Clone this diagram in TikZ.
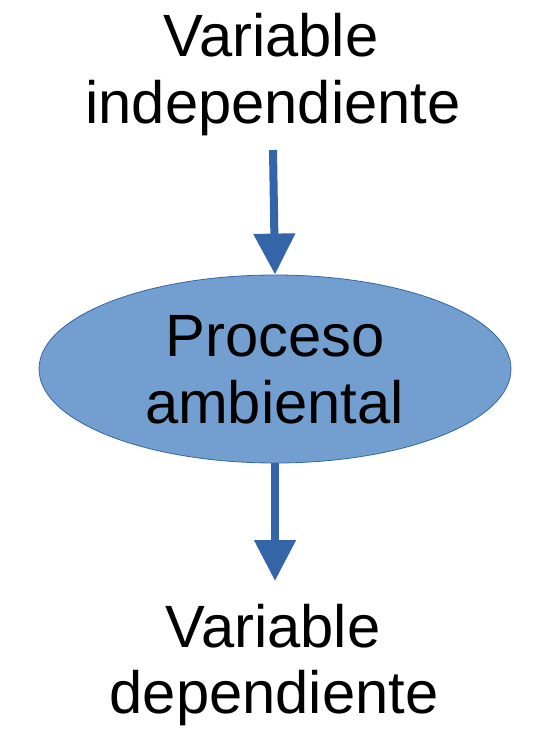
\documentclass[tikz,border=0pt]{standalone}
\usepackage{fontspec}
\setmainfont{Liberation Sans}
\usetikzlibrary{arrows.meta,shapes.geometric}
\definecolor{arrowblue}{HTML}{3465A8}
\definecolor{ellfill}{HTML}{729FCF}
\definecolor{ellline}{HTML}{3465A4}
\begin{document}
\begin{tikzpicture}[x=1pt,y=-1pt,
  lbl/.style={anchor=base,inner sep=0pt,font=\fontsize{59.7}{67}\selectfont},
  conn/.style={draw=arrowblue,line width=8pt,-{Triangle[width=40pt,length=41pt]}}]
\useasboundingbox (0,0) rectangle (555,744);
\node[lbl] (t1) at (271,56) {Variable};
\node[lbl] (t2) at (273,123) {independiente};
\node[draw=ellline,line width=0.8pt,fill=ellfill,ellipse,minimum width=472pt,minimum height=188pt,inner sep=0pt] (proc) at (275,369) {};
\node[lbl] (p1) at (275.5,356) {Proceso};
\node[lbl] (p2) at (274.5,423) {ambiental};
\node[lbl] (b1) at (273,647) {Variable};
\node[lbl] (b2) at (274,713) {dependiente};
\coordinate (a1) at (273,150);
\coordinate (a2) at (275,581);
\draw[conn] (a1) -- (proc.north);
\draw[conn] (proc.south) -- (a2);
\end{tikzpicture}
\end{document}
